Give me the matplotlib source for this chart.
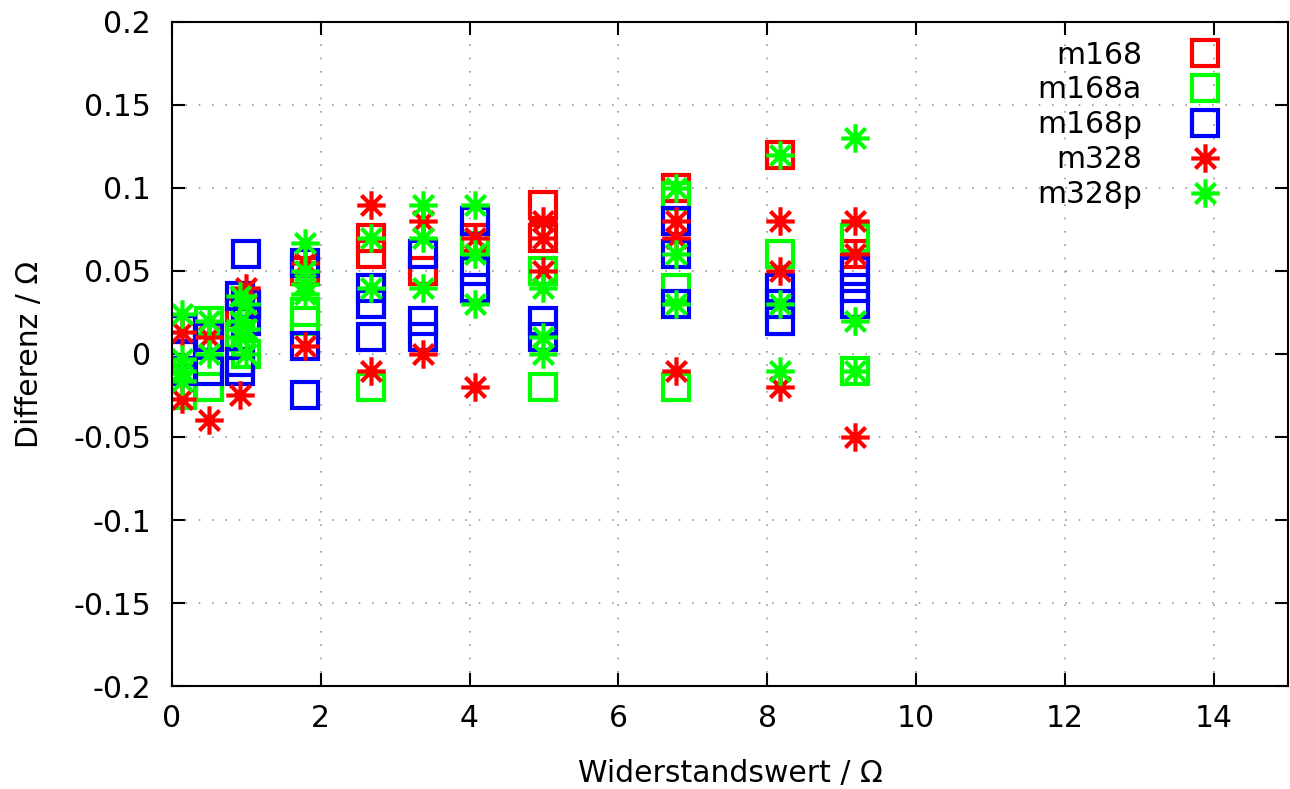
import matplotlib
matplotlib.use("Agg")
import matplotlib.pyplot as plt
from matplotlib.path import Path

# ---- data ----
m168_x = [0.13, 0.5, 0.91, 1.0, 1.79, 2.67, 2.67, 3.37, 4.07, 4.99, 4.99, 6.77, 8.17, 9.18]
m168_y = [0.015, 0.01, 0.025, 0.03, 0.05, 0.07, 0.06, 0.05, 0.07, 0.09, 0.07, 0.10, 0.12, 0.06]

m168a_x = [0.13, 0.13, 0.5, 0.5, 0.91, 1.0, 1.79, 1.79, 2.67, 4.07, 4.99, 4.99, 6.77, 6.77, 6.77, 8.17, 9.18, 9.18]
m168a_y = [-0.025, -0.01, 0.02, -0.02, 0.01, 0.0, 0.025, 0.02, -0.02, 0.065, 0.05, -0.02, 0.095, 0.04, -0.02, 0.06, 0.07, -0.01]

m168p_x = [0.13, 0.13, 0.13, 0.5, 0.5, 0.91, 0.91, 0.91, 1.0, 1.0, 1.0, 1.79, 1.79, 1.79,
           2.67, 2.67, 2.67, 3.37, 3.37, 3.37, 4.07, 4.07, 4.07, 4.99, 4.99, 6.77, 6.77, 6.77,
           8.17, 8.17, 8.17, 9.18, 9.18, 9.18]
m168p_y = [0.015, 0.0, -0.01, 0.01, -0.01, 0.035, -0.005, -0.01, 0.06, 0.03, 0.02, 0.055, 0.005, -0.025,
           0.04, 0.03, 0.01, 0.06, 0.02, 0.01, 0.08, 0.05, 0.04, 0.02, 0.01, 0.08, 0.06, 0.03,
           0.04, 0.03, 0.02, 0.05, 0.04, 0.03]

m328_x = [0.13, 0.13, 0.5, 0.5, 0.91, 1.0, 1.79, 1.79, 2.67, 2.67, 3.37, 3.37, 4.07, 4.07,
          4.99, 4.99, 4.99, 6.77, 6.77, 6.77, 8.17, 8.17, 8.17, 9.18, 9.18, 9.18]
m328_y = [0.013, -0.027, 0.01, -0.04, -0.025, 0.04, 0.055, 0.005, 0.09, -0.01, 0.08, 0.0, 0.07, -0.02,
          0.08, 0.07, 0.05, 0.08, 0.07, -0.01, 0.08, 0.05, -0.02, 0.08, 0.06, -0.05]

m328p_x = [0.13, 0.13, 0.13, 0.13, 0.5, 0.5, 0.91, 0.91, 0.91, 1.0, 1.0, 1.0,
           1.79, 1.79, 1.79, 1.79, 2.67, 2.67, 3.37, 3.37, 3.37, 4.07, 4.07, 4.07,
           4.99, 4.99, 4.99, 6.77, 6.77, 6.77, 8.17, 8.17, 8.17, 9.18, 9.18, 9.18]
m328p_y = [0.024, -0.003, -0.01, -0.016, 0.02, 0.0, 0.035, 0.02, 0.01, 0.03, 0.015, 0.0,
           0.067, 0.05, 0.042, 0.036, 0.07, 0.04, 0.09, 0.07, 0.04, 0.09, 0.06, 0.03,
           0.04, 0.01, 0.0, 0.10, 0.06, 0.03, 0.12, 0.03, -0.01, 0.13, 0.02, -0.01]

x_ticks = [0, 2, 4, 6, 8, 10, 12, 14]
y_ticks = [-0.2, -0.15, -0.1, -0.05, 0, 0.05, 0.1, 0.15, 0.2]
y_tick_labels = ["-0.2", "-0.15", "-0.1", "-0.05", "0", "0.05", "0.1", "0.15", "0.2"]

# ---- style ----
plt.rcParams['font.family'] = ['DejaVu Sans']
fs = 21.5

# asterisk marker (+ and x combined)
d = 0.7071
star_verts = [(-1, 0), (1, 0), (0, -1), (0, 1), (-d, -d), (d, d), (-d, d), (d, -d)]
star_codes = [Path.MOVETO, Path.LINETO] * 4
star = Path(star_verts, star_codes)

fig = plt.figure(figsize=(12.9, 7.89), dpi=100)
ax = fig.add_axes([0.1333, 0.1305, 0.8651, 0.8417])

sq_kw = dict(linestyle='none', marker='s', ms=18.5, mew=3.0, mfc='none')
st_kw = dict(linestyle='none', marker=star, ms=20.5, mew=3.0)

ax.plot(m168_x, m168_y, color='#ff0000', label='m168', **sq_kw)
ax.plot(m168a_x, m168a_y, color='#00ff00', label='m168a', **sq_kw)
ax.plot(m168p_x, m168p_y, color='#0000ff', label='m168p', **sq_kw)
ax.plot(m328_x, m328_y, color='#ff0000', label='m328', **st_kw)
ax.plot(m328p_x, m328p_y, color='#00ff00', label='m328p', **st_kw)

ax.set_xlim(0, 15)
ax.set_ylim(-0.2, 0.2)
ax.set_xticks(x_ticks)
ax.set_xticklabels([str(v) for v in x_ticks])
ax.set_yticks(y_ticks)
ax.set_yticklabels(y_tick_labels)
ax.tick_params(direction='in', length=9.5, width=1.5, labelsize=fs,
               top=True, right=True)
ax.tick_params(axis='y', pad=15)
ax.tick_params(axis='x', pad=13)
for s in ax.spines.values():
    s.set_linewidth(1.5)
ax.grid(True, linestyle=(0, (1, 7)), color='#999999', linewidth=1.2)
ax.set_axisbelow(True)

ax.set_xlabel('Widerstandswert / Ω', fontsize=fs, labelpad=19)
ax.set_ylabel('Differenz / Ω', fontsize=fs, labelpad=21)

ax.legend(loc='upper right', bbox_to_anchor=(0.952, 0.99), frameon=False,
          markerfirst=False, fontsize=fs, handlelength=1.2, handletextpad=1.5,
          labelspacing=0.2, borderaxespad=0)

fig.savefig('out.png', dpi=100)
